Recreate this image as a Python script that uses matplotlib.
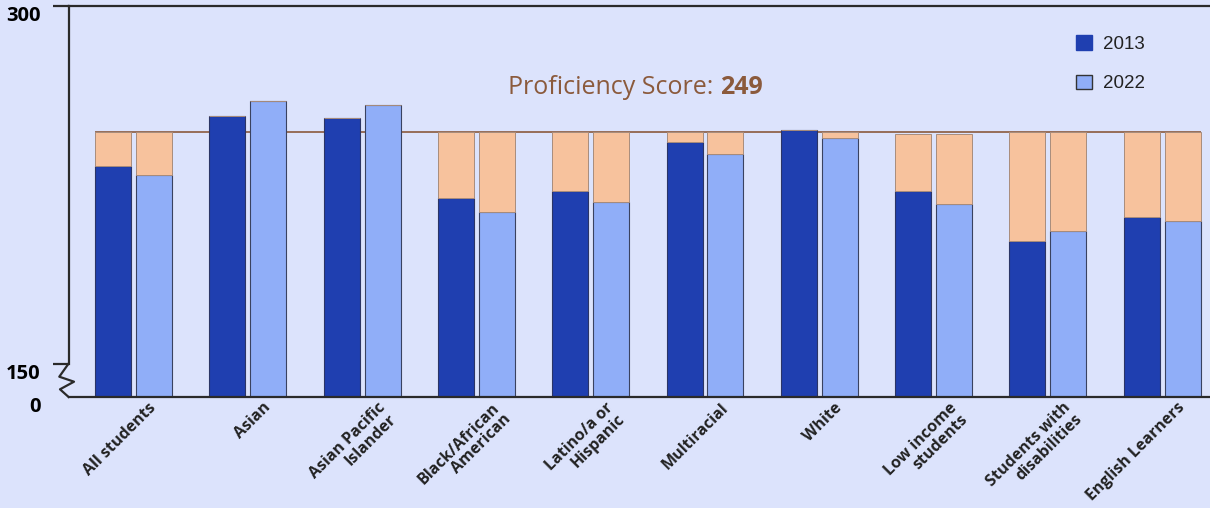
import numpy as np
import matplotlib.pyplot as plt
import matplotlib.transforms as mtransforms
from matplotlib.lines import Line2D
from matplotlib.patches import Patch

# groups and scores
groups = ['All students', 'Asian', 'Asian Pacific\nIslander', 'Black/African\nAmerican',
          'Latino/a or\nHispanic', 'Multiracial', 'White', 'Low income\nstudents',
          'Students with\ndisabilities', 'English Learners']
scores_2013 = [234.5, 256, 255, 220.7, 224, 244.6, 250, 224, 202.4, 212.6]
scores_2022 = [230.5, 262.2, 260.5, 214.7, 219, 239.8, 246.5, 218.2, 206.8, 211.2]
# top of the peach "gap" segment for each group
targets = [249, 249, 249, 249, 249, 249, 249, 248, 249, 249]
proficiency = 249

bg = '#dce3fc'
c2013 = '#1f3fb0'
c2022 = '#90aef8'
cgap = '#f7c29d'
brown = '#8b5a3c'

fig = plt.figure(figsize=[12.1, 5.08], dpi=100, facecolor=bg)
ax = fig.add_axes([69/1210, 1-397/508, 1-69/1210, (397-6)/508])
ax.set_facecolor(bg)

x = np.arange(len(groups))
w = 0.315
off = 0.179
s13 = np.array(scores_2013)
s22 = np.array(scores_2022)
tg = np.array(targets)
gap13 = np.clip(tg - s13, 0, None)
gap22 = np.clip(tg - s22, 0, None)

ax.hlines(proficiency, x[0]-off-w/2, x[-1]+off+w/2, color=brown, lw=1.2, zorder=1)

ax.bar(x-off, s13, w, color=c2013, edgecolor='#2b3566', lw=0.8, zorder=2, label='2013')
ax.bar(x+off, s22, w, color=c2022, edgecolor='#3a4260', lw=0.8, zorder=2, label='2022')
ax.bar(x-off, gap13, w, bottom=s13, color=cgap, edgecolor='#a88c7c', lw=0.7, zorder=2)
ax.bar(x+off, gap22, w, bottom=s22, color=cgap, edgecolor='#a88c7c', lw=0.7, zorder=2)

ybot = 150 - 33/2.343
ytop = 150 + 358/2.343
ax.set_ylim(ybot, ytop)
ax.set_xlim(-0.564, 9.418)

ax.spines['right'].set_visible(False)
for s in ['left', 'bottom', 'top']:
    ax.spines[s].set_color('#2a2a2a')
    ax.spines[s].set_linewidth(1.6)
ax.spines['left'].set_bounds(150, ytop)

ax.set_yticks([ybot, 150, ytop])
ax.set_yticklabels(['0', '150', '300'], fontfamily='Open Sans', fontweight='bold', fontsize=14.5)
ax.tick_params(axis='y', length=11.5, width=1.6, color='#2a2a2a', pad=9)
ax.yaxis.get_major_ticks()[0].tick1line.set_visible(False)
for lab in ax.get_yticklabels():
    lab.set_va('top')

# axis break zigzag
zz_x = np.array([68.3, 59.3, 74, 60, 68.6]) / 1210
zz_y = 1 - np.array([364, 376.7, 381.7, 389.3, 397]) / 508
fig.add_artist(Line2D(zz_x, zz_y, color='#2a2a2a', lw=1.6, transform=fig.transFigure))

ax.set_xticks(x)
ax.set_xticklabels(groups, rotation=45, ha='right', va='top', rotation_mode='anchor',
                   fontfamily='Open Sans', fontweight='bold', fontsize=11.5, color='#222222',
                   linespacing=1.0)
ax.tick_params(axis='x', length=0, pad=2)
shift = mtransforms.ScaledTranslation(15/100, 0, fig.dpi_scale_trans)
for lab in ax.get_xticklabels():
    lab.set_transform(lab.get_transform() + shift)

t1 = fig.text(508/1210, 1-87/508, 'Proficiency Score:', fontfamily='Open Sans', fontsize=18,
              color=brown, ha='left', va='center')
ax.annotate(f'{proficiency}', xy=(1, 0.5), xycoords=t1, xytext=(5, 0), textcoords='offset points',
            fontfamily='Open Sans', fontweight='bold', fontsize=18, color=brown,
            ha='left', va='center')

handles = [Patch(facecolor=c2013, edgecolor=c2013), Patch(facecolor=c2022, edgecolor='#333333')]
fig.legend(handles, ['2013', '2022'], loc='upper left', bbox_to_anchor=(1076/1210, 1-35/508),
           frameon=False, borderpad=0, borderaxespad=0, handlelength=0.85, handleheight=0.85,
           handletextpad=0.6, labelspacing=1.15,
           prop={'family': 'Liberation Sans', 'size': 13.5}, labelcolor='#222222')

plt.savefig('out.png', dpi=100, facecolor=bg)
